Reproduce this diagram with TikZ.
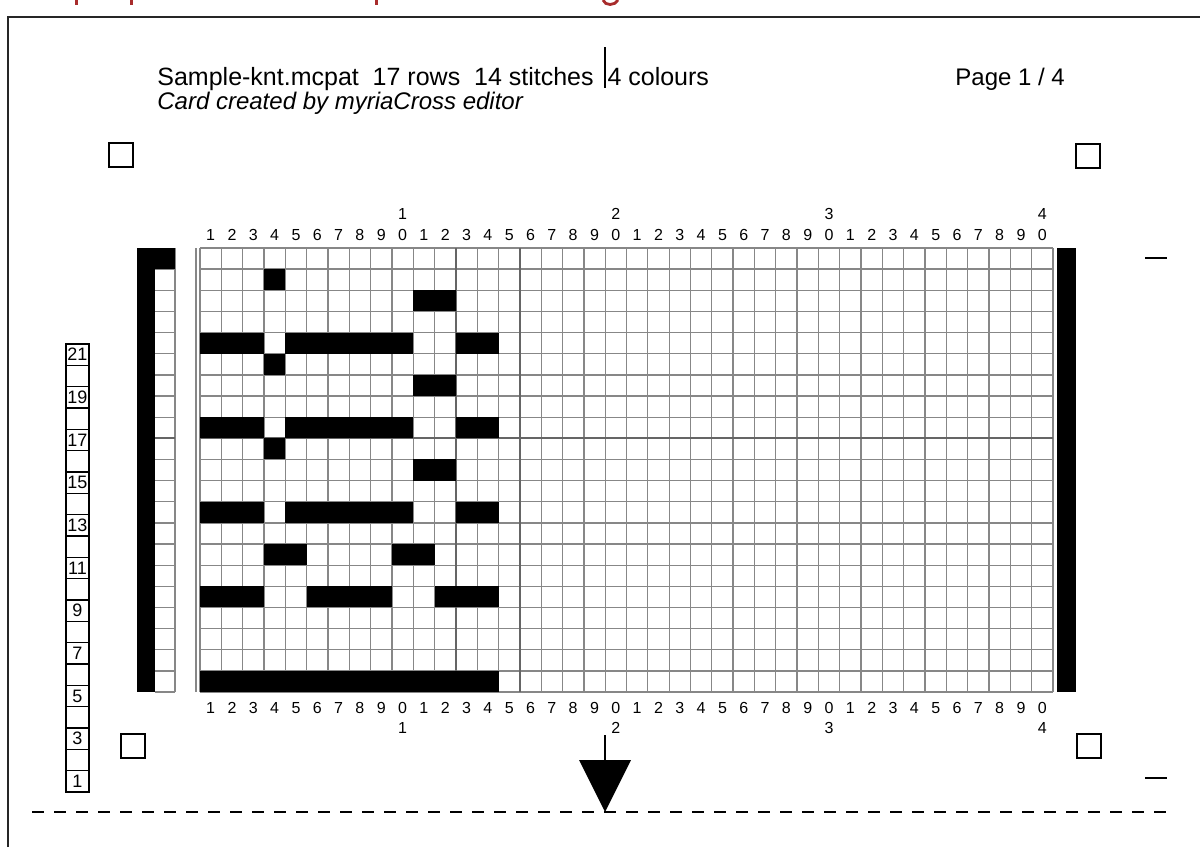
\documentclass[tikz,border=0pt]{standalone}
\usepackage{fontspec}
\setmainfont{Liberation Sans}
\usetikzlibrary{positioning}
\definecolor{headred}{RGB}{168,44,44}
\definecolor{gridgray}{RGB}{135,135,135}

\begin{document}
\begin{tikzpicture}[
    x=0.5pt, y=-0.5pt,
    gridline/.style={draw=gridgray, line width=0.65pt},
    majorline/.style={draw=gridgray!75!black, line width=1.1pt},
    stitch/.style={fill=black},
    regmark/.style={draw=black, line width=1pt, minimum size=12pt, inner sep=0pt},
    digit/.style={font=\fontsize{8}{9}\selectfont, inner sep=0pt},
    rowbox/.style={draw=black, line width=0.6pt},
    rowno/.style={font=\fontsize{9}{10}\selectfont, inner sep=0pt},
    headtext/.style={font=\fontsize{12}{14}\selectfont, inner sep=0pt, anchor=base west},
    marker/.style={draw=black, line width=0.7pt}
  ]
    \useasboundingbox (0,0) rectangle (1200,847);
    \fill[white] (0,0) rectangle (1200,847);
    \def\cw{21.325}
    \def\rh{21.143}

    % Page frame and cut-off heading
    \draw[line width=1pt, black!85] (8,847) -- (8,17) -- (1200,17);
    \fill[headred] (74.5,0) rectangle (78,5);
    \fill[headred] (129.5,0) rectangle (133,5);
    \fill[headred] (374.5,0) rectangle (378,5);
    \draw[headred, line width=1.4pt] (603,0) .. controls (605,6) and (615,6) .. (618,0);

    % Header
    \coordinate (tickTop) at (605,47);
    \coordinate (tickBot) at (605,88);
    \draw[marker] (tickTop) -- (tickBot);
    \node[headtext, font=\fontsize{12.5}{14}\selectfont] (title) at (157,85) {Sample-knt.mcpat\ \ 17 rows\ \ 14 stitches\ \ 4 colours};
    \node[headtext, font=\fontsize{12}{14}\selectfont\itshape] (credit) at (157,109) {Card created by myriaCross editor};
    \node[headtext] (page) at (955,85) {Page 1 / 4};

    % Registration squares
    \node[regmark] (markTL) at (121,155) {};
    \node[regmark] (markTR) at (1088,156) {};
    \node[regmark] (markBL) at (133,746) {};
    \node[regmark] (markBR) at (1089,746) {};

    % Needle grid
    \foreach \i in {0,...,40}
      \draw[gridline] ({200+\i*\cw},248) -- ({200+\i*\cw},692);
    \foreach \j in {0,...,21}
      \draw[gridline] (200,{248+\j*\rh}) -- (1053,{248+\j*\rh});
    \draw[gridline] (196,248) -- (196,692);
    \foreach \i in {12,15}
      \draw[majorline] ({200+\i*\cw},248) -- ({200+\i*\cw},692);
    \draw[majorline] (200,{248+9*\rh}) -- (1053,{248+9*\rh});

    % Side strip
    \foreach \j in {1,...,21}
      \draw[gridline] (155,{248+\j*\rh}) -- (175,{248+\j*\rh});
    \draw[gridline] (175,248) -- (175,692);
    \draw[majorline] (155,{248+9*\rh}) -- (175,{248+9*\rh});
    \fill (137,248) rectangle (155,692);
    \fill (137,248) rectangle (175,{248+\rh});
    \fill (1057,248) rectangle (1076,692);

    % Stitches (row/first/last)
    \foreach \r/\a/\b in {2/4/4, 3/11/12,
        5/1/3, 5/5/10, 5/13/14, 6/4/4, 7/11/12,
        9/1/3, 9/5/10, 9/13/14, 10/4/4, 11/11/12,
        13/1/3, 13/5/10, 13/13/14,
        15/4/5, 15/10/11,
        17/1/3, 17/6/9, 17/12/14,
        21/1/14}
      \fill[stitch] ({200+(\a-1)*\cw},{248+(\r-1)*\rh}) rectangle ({200+\b*\cw},{248+\r*\rh});

    % Needle numbers
    \foreach \c in {1,...,40} {
      \pgfmathtruncatemacro\u{mod(\c,10)}
      \node[digit] (top\c) at ({200+(\c-0.5)*\cw},235) {\u};
      \node[digit] (bot\c) at ({200+(\c-0.5)*\cw},708) {\u};
    }
    \foreach \t in {1,...,4} {
      \node[digit] (topTens\t) at ({200+(10*\t-0.5)*\cw},214) {\t};
      \node[digit] (botTens\t) at ({200+(10*\t-0.5)*\cw},728) {\t};
    }

    % Row counter
    \foreach \k in {1,...,21}
      \draw[rowbox] (66,{344+(\k-1)*21.33}) rectangle (89,{344+\k*21.33});
    \foreach \k in {1,3,...,21} {
      \pgfmathtruncatemacro\n{22-\k}
      \node[rowno] (rowNo\n) at (77.5,{344+(\k-0.5)*21.33}) {\n};
    }

    % Right ticks
    \coordinate (tickRA) at (1145,258);
    \coordinate (tickRB) at (1167,258);
    \coordinate (tickRC) at (1145,778);
    \coordinate (tickRD) at (1167,778);
    \draw[marker] (tickRA) -- (tickRB);
    \draw[marker] (tickRC) -- (tickRD);

    % Pointer and cut line
    \coordinate (pointerTop) at (605,735);
    \coordinate (pointerBase) at (605,760);
    \draw[line width=1pt] (pointerTop) -- (pointerBase);
    \fill (579,760) -- (631,760) -- (605,812) -- cycle;
    \coordinate (cutL) at (32,812);
    \coordinate (cutR) at (1168,812);
    \draw[line width=1pt, dash pattern=on 6pt off 5pt] (cutL) -- (cutR);
  \end{tikzpicture}
\end{document}
